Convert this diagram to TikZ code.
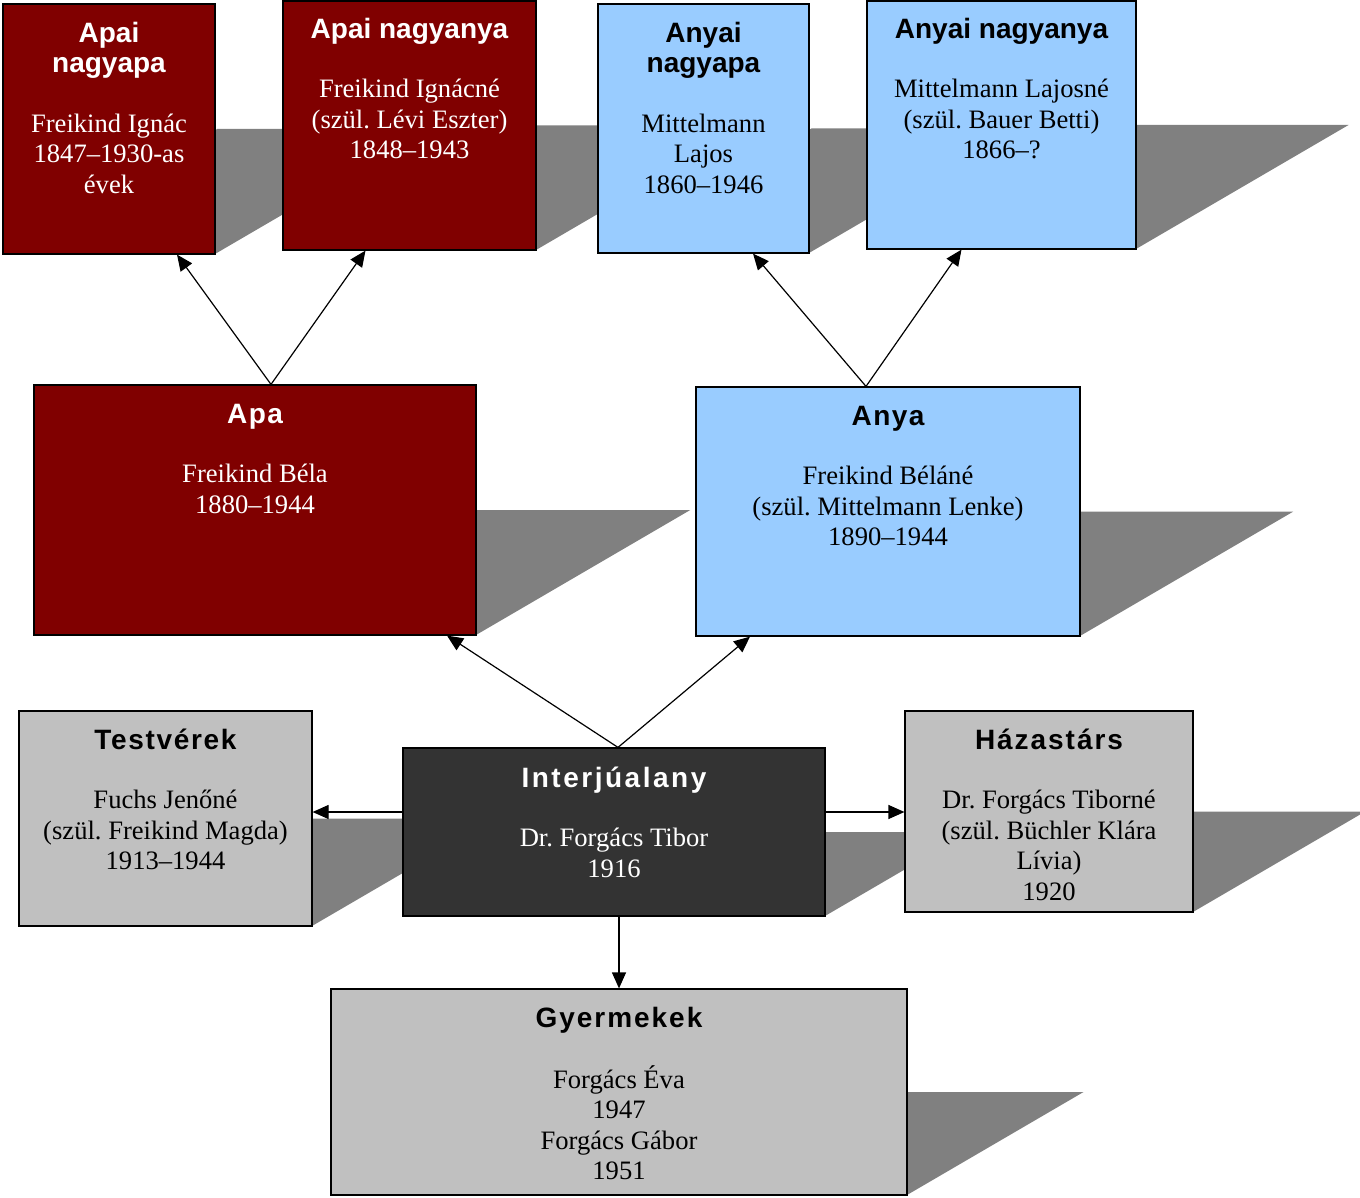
\documentclass[tikz,border=0pt]{standalone}
\usepackage{fontspec}
\setmainfont{Liberation Serif}
\newfontfamily\headfont{Liberation Sans}
\usetikzlibrary{arrows.meta,fit}
\frenchspacing

\definecolor{apared}{HTML}{800000}
\definecolor{anyablue}{HTML}{99CCFF}
\definecolor{kingray}{HTML}{C0C0C0}
\definecolor{selfgray}{HTML}{333333}
\definecolor{shadowgray}{HTML}{808080}

% heading line of a card, optional letter spacing
\newcommand\hd[2][0]{{\headfont\bfseries\fontsize{14}{15.3}\selectfont\addfontfeature{LetterSpace=#1}#2}}
% slanted shadow behind a card, corners in pixels
\newcommand\boxshadow[4]{%
  \fill[shadowgray] (#1,#4) -- (#3,#4) -- ({#3+0.857*(#4-#2)},{(#2+#4)/2})
    -- ({#1+0.857*(#4-#2)},{(#2+#4)/2}) -- cycle;}

\begin{document}
\begin{tikzpicture}[
    x=0.5pt, y=-0.5pt,
    card/.style={draw=black, line width=0.6pt, inner sep=0pt},
    cardtext/.style={anchor=base, inner sep=0pt, font=\fontsize{13.3}{15.3}\selectfont},
    link/.style={-{Triangle[length=8pt,width=7pt]}, line width=0.6pt}
]
    \useasboundingbox (0,0) rectangle (1360,1198);
    \clip (0,0) rectangle (1360,1198);

    % shadows
    \boxshadow{3}{4}{215}{254}
    \boxshadow{283}{1}{536}{250}
    \boxshadow{598}{4}{809}{253}
    \boxshadow{867}{1}{1136}{249}
    \boxshadow{34}{385}{476}{635}
    \boxshadow{696}{387}{1080}{636}
    \boxshadow{19}{711}{312}{926}
    \boxshadow{403}{748}{825}{916}
    \boxshadow{905}{711}{1193}{912}
    \boxshadow{331}{989}{907}{1195}

    % cards
    \node[card, fill=apared, fit={(3,4) (215,254)}] (apnagyapa) {};
    \node[card, fill=apared, fit={(283,1) (536,250)}] (apnagyanya) {};
    \node[card, fill=anyablue, fit={(598,4) (809,253)}] (anynagyapa) {};
    \node[card, fill=anyablue, fit={(867,1) (1136,249)}] (anynagyanya) {};
    \node[card, fill=apared, fit={(34,385) (476,635)}] (apa) {};
    \node[card, fill=anyablue, fit={(696,387) (1080,636)}] (anya) {};
    \node[card, fill=kingray, fit={(19,711) (312,926)}] (testverek) {};
    \node[card, fill=selfgray, fit={(403,748) (825,916)}] (interj) {};
    \node[card, fill=kingray, fit={(905,711) (1193,912)}] (hazastars) {};
    \node[card, fill=kingray, fit={(331,989) (907,1195)}] (gyermekek) {};

    % texts
    \node[cardtext, text=white] (apnagyapa-txt) at ([yshift=-19.5pt]apnagyapa.north)
        {\begin{tabular}[t]{@{}c@{}}\hd{Apai}\\ \hd{nagyapa}\\[-1pt] \\ Freikind Ignác\\ 1847–1930-as\\ évek\end{tabular}};
    \node[cardtext, text=white] (apnagyanya-txt) at ([yshift=-19pt]apnagyanya.north)
        {\begin{tabular}[t]{@{}c@{}}\hd{Apai nagyanya}\\[-1pt] \\ Freikind Ignácné\\ (szül. Lévi Eszter)\\ 1848–1943\end{tabular}};
    \node[cardtext] (anynagyapa-txt) at ([yshift=-19.5pt]anynagyapa.north)
        {\begin{tabular}[t]{@{}c@{}}\hd{Anyai}\\ \hd{nagyapa}\\[-1pt] \\ Mittelmann\\ Lajos\\ 1860–1946\end{tabular}};
    \node[cardtext] (anynagyanya-txt) at ([yshift=-19pt]anynagyanya.north)
        {\begin{tabular}[t]{@{}c@{}}\hd{Anyai nagyanya}\\[-1pt] \\ Mittelmann Lajosné\\ (szül. Bauer Betti)\\ 1866–?\end{tabular}};
    \node[cardtext, text=white] (apa-txt) at ([yshift=-19.5pt]apa.north)
        {\begin{tabular}[t]{@{}c@{}}\hd[5]{Apa}\\[-1pt] \\ Freikind Béla\\ 1880–1944\end{tabular}};
    \node[cardtext] (anya-txt) at ([yshift=-19.5pt]anya.north)
        {\begin{tabular}[t]{@{}c@{}}\hd[5]{Anya}\\[-1pt] \\ Freikind Béláné\\ (szül. Mittelmann Lenke)\\ 1890–1944\end{tabular}};
    \node[cardtext] (testverek-txt) at ([yshift=-19.5pt]testverek.north)
        {\begin{tabular}[t]{@{}c@{}}\hd[6]{Testvérek}\\[-1pt] \\ Fuchs Jenőné\\ (szül. Freikind Magda)\\ 1913–1944\end{tabular}};
    \node[cardtext, text=white] (interj-txt) at ([yshift=-20pt]interj.north)
        {\begin{tabular}[t]{@{}c@{}}\hd[9]{Interjúalany}\\[-1pt] \\ Dr. Forgács Tibor\\ 1916\end{tabular}};
    \node[cardtext] (hazastars-txt) at ([yshift=-19.5pt]hazastars.north)
        {\begin{tabular}[t]{@{}c@{}}\hd[7]{Házastárs}\\[-1pt] \\ Dr. Forgács Tiborné\\ (szül. Büchler Klára\\ Lívia)\\ 1920\end{tabular}};
    \node[cardtext] (gyermekek-txt) at ([yshift=-19.5pt]gyermekek.north)
        {\begin{tabular}[t]{@{}c@{}}\hd[7]{Gyermekek}\\[-1pt] \\ Forgács Éva\\ 1947\\ Forgács Gábor\\ 1951\end{tabular}};

    % arrows
    \draw[link] ([xshift=8pt]apa.north) -- ([xshift=34pt]apnagyapa.south);
    \draw[link] ([xshift=8pt]apa.north) -- ([xshift=-22pt]apnagyanya.south);
    \draw[link] ([xshift=-11pt]anya.north) -- ([xshift=24.75pt]anynagyapa.south);
    \draw[link] ([xshift=-11pt]anya.north) -- ([xshift=-20pt]anynagyanya.south);
    \draw[link] ([xshift=2pt]interj.north) -- ([xshift=96pt]apa.south);
    \draw[link] ([xshift=2pt]interj.north) -- ([xshift=-69pt]anya.south);
    \draw[link] ([yshift=10pt]interj.west) coordinate (lw) -- (lw -| testverek.east);
    \draw[link] ([yshift=10pt]interj.east) coordinate (le) -- (le -| hazastars.west);
    \draw[link] (interj.south -| gyermekek.north) -- (gyermekek.north);
\end{tikzpicture}
\end{document}
